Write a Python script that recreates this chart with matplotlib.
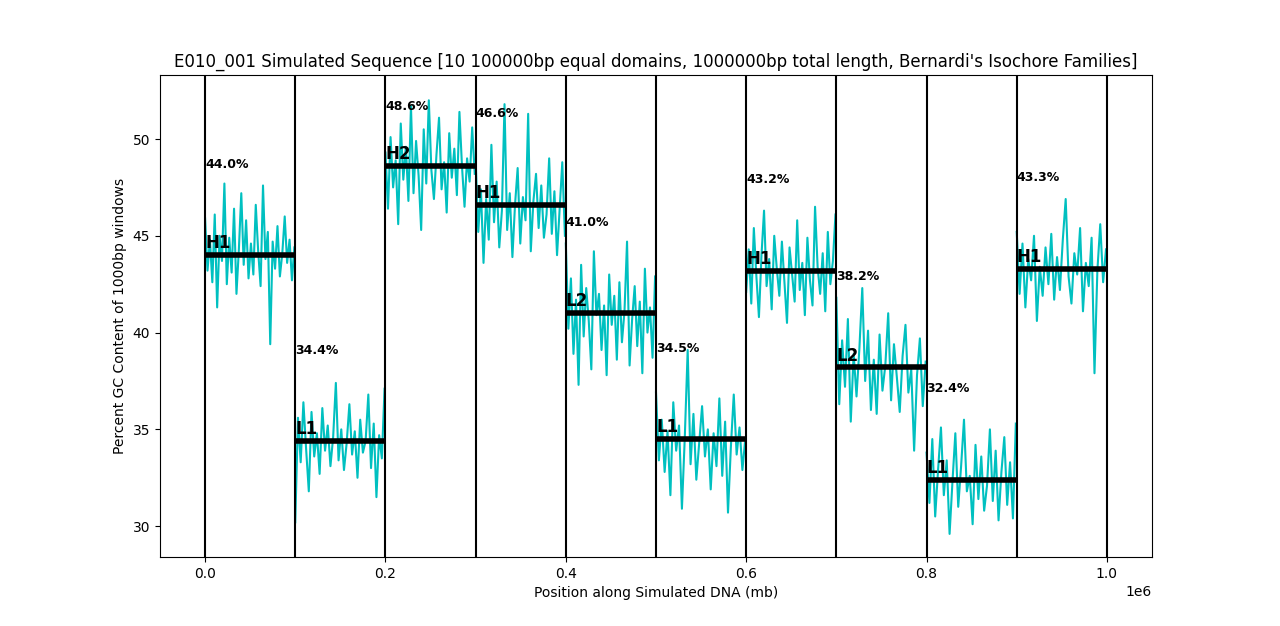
import matplotlib
matplotlib.use("Agg")
import matplotlib.pyplot as plt
import numpy as np

domain_starts = [0, 100000, 200000, 300000, 400000, 500000, 600000, 700000, 800000, 900000]
domain_len = 100000
domain_means = [44.0, 34.4, 48.6, 46.6, 41.0, 34.5, 43.2, 38.2, 32.4, 43.3]
domain_labels = ["H1", "L1", "H2", "H1", "L2", "L1", "H1", "L2", "L1", "H1"]

gc_windows = [
 [45.9,43.2,44.8,42.6,46.1,41.3,45.0,43.7,47.7,42.5,44.9,43.1,46.4,42.0,44.3,47.2,43.5,45.8,42.8,44.6,43.0,46.6,44.2,42.4,47.6,43.8,45.2,39.4,44.7,43.3,45.5,42.9,44.1,46.0,43.6,44.8,42.7,44.4],
 [30.2,35.6,33.3,36.4,34.0,31.8,35.9,33.6,34.8,32.7,36.1,33.9,35.2,33.1,34.6,37.4,33.4,35.0,32.9,34.3,36.3,33.7,34.9,32.5,35.5,33.8,34.4,36.8,33.0,35.3,31.5,34.7,33.5,37.1],
 [49.3,46.4,50.1,47.5,48.9,45.6,50.8,47.9,49.6,46.8,51.7,47.2,49.9,48.1,45.3,50.5,47.7,52.0,48.4,46.9,49.2,51.1,47.4,48.8,46.2,50.3,48.0,49.5,47.1,51.4,48.6,46.5,49.0,47.8,50.6,48.2],
 [48.9,45.2,47.4,43.6,46.9,44.8,49.7,45.7,47.8,44.4,46.3,51.8,45.3,47.2,43.9,46.6,48.5,44.6,47.0,45.8,51.3,44.2,46.8,48.2,45.4,47.6,44.9,46.1,49.0,45.1,47.3,44.0,46.4,48.8,45.0],
 [44.6,40.2,42.8,38.9,41.7,37.3,43.5,39.8,42.3,40.6,38.1,44.2,40.9,42.0,39.1,41.4,37.8,43.0,40.4,41.9,38.6,42.6,39.5,41.1,44.7,38.3,40.7,42.4,39.3,41.6,37.9,43.3,40.0,41.3,38.7,42.9],
 [36.9,33.4,35.5,32.8,34.9,31.6,36.4,33.9,35.2,30.9,34.6,39.1,33.2,35.8,32.4,34.3,36.2,33.6,35.0,31.9,34.8,33.1,36.6,32.6,35.4,30.7,34.1,36.8,33.7,35.1,32.9,34.5],
 [42.1,44.3,41.5,45.4,42.9,40.8,44.0,46.3,42.4,43.8,41.2,45.0,43.3,41.9,44.7,42.6,40.5,44.4,43.0,41.6,45.8,42.2,43.6,40.9,44.9,42.7,41.4,46.5,43.4,42.0,44.1,41.1,45.2,42.5,43.7,46.1],
 [41.8,36.3,39.6,37.2,40.7,35.4,38.9,36.7,39.2,42.3,37.5,40.1,36.0,38.6,35.8,39.9,37.0,38.3,41.0,36.5,39.4,37.7,35.9,38.8,40.4,36.9,38.1,33.9,37.8,39.7,36.2,38.5],
 [33.8,31.2,34.5,30.5,32.9,35.1,31.6,33.4,29.6,32.3,34.8,31.0,33.1,35.5,31.8,32.6,30.1,34.2,31.4,33.6,30.8,32.1,35.0,31.3,33.9,30.3,32.8,34.6,31.1,33.3,30.4,35.3],
 [45.2,42.0,44.6,41.3,43.8,42.7,45.0,40.6,43.4,41.9,44.4,42.5,45.1,41.7,43.9,42.2,44.8,46.9,42.9,41.5,44.1,43.0,45.4,41.1,43.6,42.4,44.9,37.9,43.2,45.6,42.6,44.3],
]

fig, ax = plt.subplots(figsize=(12.8, 6.26), dpi=100)
for start, vals in zip(domain_starts, gc_windows):
    x = np.linspace(start, start + domain_len - 1000, len(vals))
    ax.plot(x, vals, color="#00c0c0", lw=1.5)

for start, m, lab in zip(domain_starts, domain_means, domain_labels):
    ax.axvline(start, color="black", lw=1.5)
    ax.hlines(m, start, start + domain_len, color="black", lw=4)
    ax.text(start, m + 0.15, lab, fontsize=12, fontweight="bold", va="bottom", ha="left")
    ax.text(start, min(m + 4.7, 51.7), f"{m:.1f}%", fontsize=9, fontweight="bold",
            va="center", ha="left")
ax.axvline(1000000, color="black", lw=1.5)

ax.set_xlim(-50000, 1050000)
ax.set_ylim(28.4, 53.3)
ax.set_xlabel("Position along Simulated DNA (mb)")
ax.set_ylabel("Percent GC Content of 1000bp windows")
ax.set_title("E010_001 Simulated Sequence [10 100000bp equal domains, 1000000bp total length, Bernardi's Isochore Families]")
fig.savefig("out.png")
